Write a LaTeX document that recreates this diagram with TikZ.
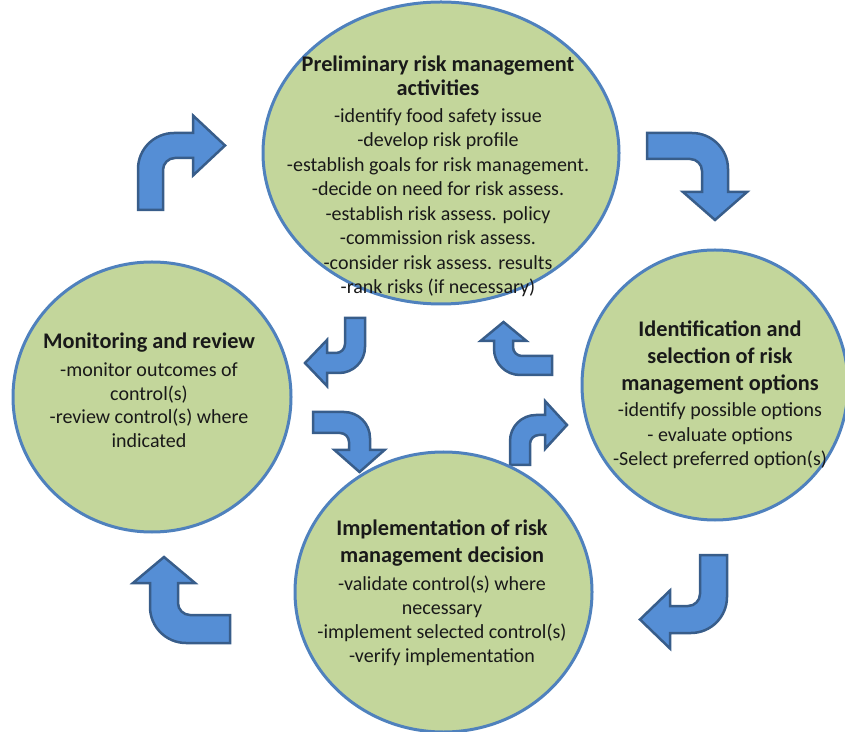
\documentclass[tikz,border=0pt]{standalone}
\usepackage{fontspec}
\setmainfont{Carlito}
\usetikzlibrary{shapes.geometric}
\definecolor{circfill}{RGB}{195,214,155}
\definecolor{circline}{RGB}{79,129,189}
\definecolor{arrfill}{RGB}{85,142,213}
\definecolor{arrline}{RGB}{56,93,138}
\tikzset{
  bubble/.style={ellipse, draw=circline, line width=3pt, fill=circfill, inner sep=0pt},
  arrowsty/.style={fill=arrfill, draw=arrline, line width=2.5pt, line join=miter},
  bodytext/.style={align=center, inner sep=0pt, text=black!90},
}
\newcommand{\ttl}[1]{{\bfseries\fontsize{22.3}{24}\selectfont #1}}
% #1 t, #2 H, #3 L, #4 head length, #5 head half-width, #6 outer radius, #7 inner radius
\newcommand{\bentarr}[7]{%
  \filldraw[arrowsty] (0,0) -- (0,#2-#6) arc[start angle=180,end angle=90,radius=#6]
   -- (#3,#2) -- (#3,#2-#1/2+#5) -- (#3+#4,#2-#1/2) -- (#3,#2-#1/2-#5) -- (#3,#2-#1)
   -- (#1+#7,#2-#1) arc[start angle=90,end angle=180,radius=#7] -- (#1,0) -- cycle;}
\begin{document}
\begin{tikzpicture}[x=1pt,y=1pt]
\useasboundingbox (0,0) rectangle (845,731);
% outer arrows
\begin{scope}[shift={(138,521)}]\bentarr{25}{77}{55}{32}{30}{36}{12}\end{scope}
\begin{scope}[shift={(647,598)},rotate=-90]\bentarr{26}{81}{59}{28}{32}{36}{12}\end{scope}
\begin{scope}[shift={(727,176)},rotate=180]\bentarr{27}{78}{57}{30}{29}{36}{12}\end{scope}
\begin{scope}[shift={(230,88)},rotate=90]\bentarr{28}{80}{60}{26}{31}{36}{12}\end{scope}
% inner arrows
\begin{scope}[shift={(365,413)},rotate=180]\bentarr{20}{55}{38}{22}{23}{26}{9}\end{scope}
\begin{scope}[shift={(313,319)},rotate=-90]\bentarr{21}{57}{38}{22}{25}{26}{9}\end{scope}
\begin{scope}[shift={(552,356)},rotate=90]\bentarr{19}{58}{34}{19}{23}{26}{9}\end{scope}
\begin{scope}[shift={(510,266)}]\bentarr{20}{50}{35}{22}{24}{26}{9}\end{scope}
% circles
\node[bubble, minimum width=356pt, minimum height=302pt] (prelim) at (441,578) {};
\node[bubble, minimum width=278pt, minimum height=270pt] (monitor) at (152,334) {};
\node[bubble, minimum width=266pt, minimum height=270pt] (ident) at (715,346) {};
\node[bubble, minimum width=297pt, minimum height=280pt] (impl) at (443.5,139) {};
% texts
\node[bodytext, font=\fontsize{20}{24.5}\selectfont] (prelimtxt) at (438,554.5) {%
\ttl{Preliminary risk management}\\
\ttl{activities}\\[2pt]
-identify food safety issue\\
-develop risk profile\\
-establish goals for risk management.\\
-decide on need for risk assess.\\
-establish risk assess. policy\\
-commission risk assess.\\
-consider risk assess. results\\
-rank risks (if necessary)};
\node[bodytext, font=\fontsize{20}{23.7}\selectfont] (monitortxt) at (149,340.5) {%
\ttl{Monitoring and review}\\[4pt]
-monitor outcomes of\\
control(s)\\
-review control(s) where\\
indicated};
\node[bodytext, font=\fontsize{20}{24.5}\selectfont] (identtxt) at (720,336) {%
\ttl{Identification and}\\[2.5pt]
\ttl{selection of risk}\\[2.5pt]
\ttl{management options}\\[2pt]
-identify possible options\\
- evaluate options\\
-Select preferred option(s)};
\node[bodytext, font=\fontsize{20}{24}\selectfont] (impltxt) at (442,138) {%
\ttl{Implementation of risk}\\[3pt]
\ttl{management decision}\\[4pt]
-validate control(s) where\\
necessary\\
-implement selected control(s)\\
-verify implementation};
\end{tikzpicture}
\end{document}
